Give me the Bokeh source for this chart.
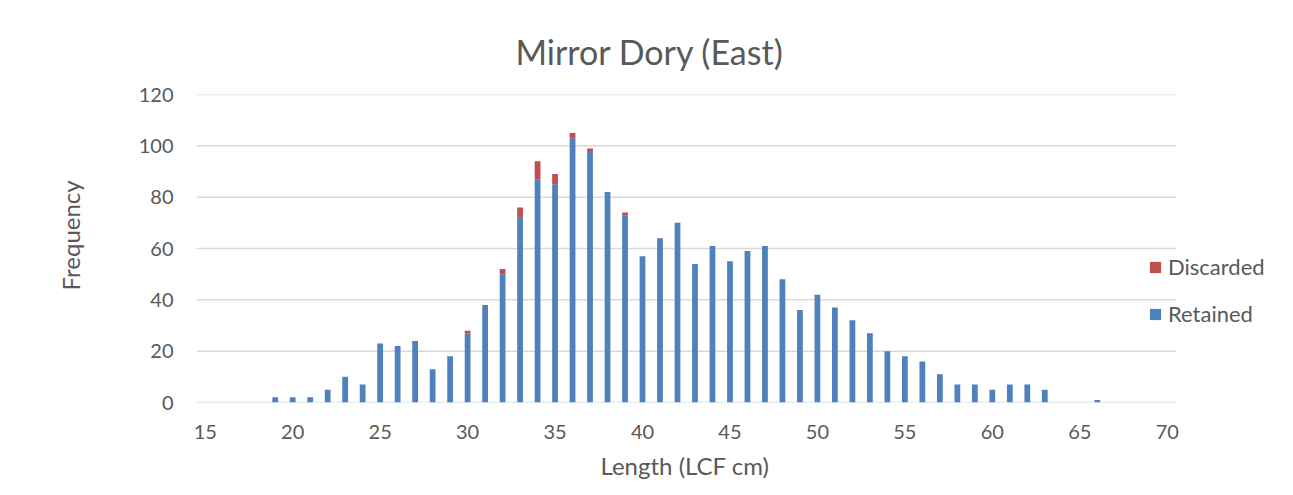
from bokeh.plotting import figure
from bokeh.models import ColumnDataSource, Range1d, Legend, LegendItem, Title, FixedTicker
from bokeh.embed import file_html
from bokeh.resources import INLINE

lengths = list(range(19, 67))
retained = [2, 2, 2, 5, 10, 7, 23, 22, 24, 13, 18, 27, 38, 50, 72, 87, 85, 103, 98, 82,
            73, 57, 64, 70, 54, 61, 55, 59, 61, 48, 36, 42, 37, 32, 27, 20, 18, 16, 11, 7,
            7, 5, 7, 7, 5, 0, 0, 1]
discarded = [0, 0, 0, 0, 0, 0, 0, 0, 0, 0, 0, 1, 0, 2, 4, 7, 4, 2, 1, 0,
             1, 0, 0, 0, 0, 0, 0, 0, 0, 0, 0, 0, 0, 0, 0, 0, 0, 0, 0, 0,
             0, 0, 0, 0, 0, 0, 0, 0]
x_ticks = [15, 20, 25, 30, 35, 40, 45, 50, 55, 60, 65, 70]
y_ticks = [0, 20, 40, 60, 80, 100, 120]

FONT = "Lato"
TXT = "#595959"
GRID = "#D9D9D9"
BLUE = "#4F81BD"
RED = "#C0504D"

X_LO, X_HI = 14.5, 70.5  # axis extent of the category area

src = ColumnDataSource(dict(x=lengths, Retained=retained, Discarded=discarded))

p = figure(width=1285, height=493, output_backend="svg", toolbar_location=None,
           x_range=Range1d(X_LO, 76.59), y_range=Range1d(0, 120),
           min_border_left=196, min_border_right=3, min_border_top=94,
           min_border_bottom=91)
p.outline_line_color = None

# gridlines limited to the axis extent (legend sits to their right)
p.segment(x0=[X_LO] * len(y_ticks), x1=[X_HI] * len(y_ticks), y0=y_ticks, y1=y_ticks,
          line_color=GRID, line_width=1.5)

r = p.vbar_stack(["Retained", "Discarded"], x="x", width=0.33, source=src,
                 color=[BLUE, RED], line_color=None)

p.title = Title(text="Mirror Dory (East)", align="left", offset=319,
                text_font=FONT, text_font_size="34px", text_font_style="normal",
                text_color=TXT, standoff=45)

p.xgrid.grid_line_color = None
p.ygrid.grid_line_color = None

p.xaxis.ticker = FixedTicker(ticks=x_ticks)
p.yaxis.ticker = FixedTicker(ticks=y_ticks)
for ax in (p.xaxis, p.yaxis):
    ax.major_tick_line_color = None
    ax.minor_tick_line_color = None
    ax.axis_line_color = None
    ax.major_label_text_font = FONT
    ax.major_label_text_font_size = "20px"
    ax.major_label_text_color = TXT
p.xaxis.major_label_standoff = 16
p.yaxis.major_label_standoff = 17

xlab = Title(text="Length (LCF cm)", align="left", offset=404,
             text_font=FONT, text_font_size="24px", text_font_style="normal",
             text_color=TXT, standoff=15)
p.add_layout(xlab, "below")
ylab = Title(text="Frequency", align="left", offset=112,
             text_font=FONT, text_font_size="24px", text_font_style="normal",
             text_color=TXT, standoff=102)
p.add_layout(ylab, "left")

legend = Legend(items=[LegendItem(label="Discarded", renderers=[r[1]]),
                       LegendItem(label="Retained", renderers=[r[0]])],
                location=(952, 75), orientation="vertical",
                glyph_width=14, glyph_height=14, label_height=22,
                spacing=20, padding=0, margin=0,
                label_text_font=FONT, label_text_font_size="22px",
                label_text_color=TXT, label_standoff=6,
                border_line_color=None, background_fill_alpha=0)
p.add_layout(legend, "center")

open("out.html", "w").write(file_html(p, INLINE))
